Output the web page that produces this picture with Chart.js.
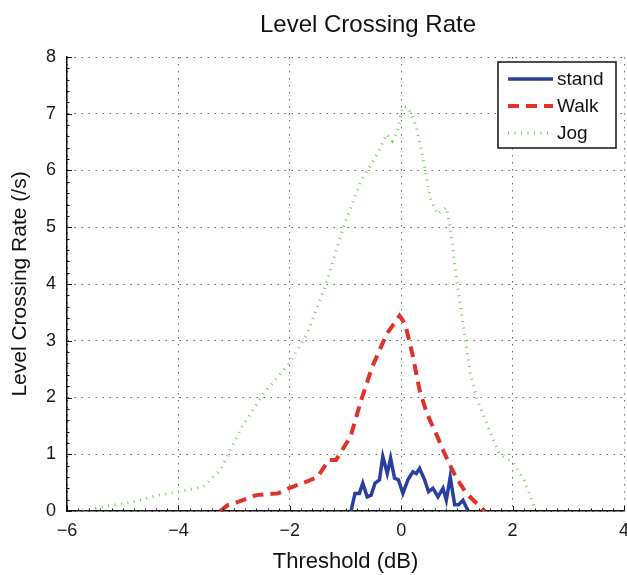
<!DOCTYPE html>
<html>
<head>
<meta charset="utf-8">
<script src="https://cdn.jsdelivr.net/npm/chart.js@4/dist/chart.umd.min.js"></script>
<style>
  html, body { margin: 0; padding: 0; background: #fff; }
</style>
</head>
<body>
<canvas id="lcr" width="627" height="575"></canvas>
<script>
// valores (limiar em dB, taxa em cruzamentos/s)
const chartTitle = 'Level Crossing Rate';
const seriesNames = ['stand', 'Walk', 'Jog'];

const standX = [-0.90, -0.83, -0.75, -0.69, -0.61, -0.54, -0.47, -0.39, -0.33, -0.25, -0.19, -0.12, -0.05, 0.03, 0.12, 0.21, 0.27, 0.33, 0.42, 0.49, 0.57, 0.66, 0.75, 0.81, 0.88, 0.96, 1.03, 1.11, 1.20];
const standY = [0, 0.31, 0.31, 0.49, 0.25, 0.28, 0.49, 0.55, 0.96, 0.66, 0.93, 0.58, 0.55, 0.31, 0.55, 0.69, 0.66, 0.75, 0.55, 0.34, 0.40, 0.25, 0.40, 0.19, 0.60, 0.11, 0.11, 0.19, 0];

const walkX = [-3.25, -3.12, -2.93, -2.60, -2.21, -2.02, -1.69, -1.50, -1.30, -1.17, -0.91, -0.72, -0.52, -0.26, -0.03, 0.07, 0.20, 0.33, 0.46, 0.65, 0.78, 0.98, 1.17, 1.50];
const walkY = [0, 0.10, 0.16, 0.28, 0.31, 0.40, 0.52, 0.60, 0.90, 0.90, 1.31, 1.95, 2.54, 3.12, 3.44, 3.30, 2.77, 2.13, 1.72, 1.31, 1.01, 0.60, 0.31, 0];

const jogX = [-5.72, -5.33, -4.81, -4.36, -4.00, -3.55, -3.25, -2.86, -2.47, -2.02, -1.69, -1.37, -1.04, -0.72, -0.46, -0.26, -0.16, -0.07, 0.03, 0.13, 0.26, 0.39, 0.52, 0.65, 0.81, 0.88, 0.98, 1.11, 1.24, 1.37, 1.56, 1.76, 2.02, 2.21, 2.41];
const jogY = [0, 0.08, 0.16, 0.28, 0.34, 0.43, 0.72, 1.48, 2.07, 2.59, 3.12, 3.94, 5.00, 5.82, 6.23, 6.64, 6.52, 6.69, 7.13, 7.10, 6.81, 6.23, 5.52, 5.23, 5.35, 5.00, 4.18, 3.30, 2.42, 1.95, 1.48, 1.01, 0.84, 0.54, 0.02];

const xTicks = [-6, -4, -2, 0, 2, 4];
const yTicks = [0, 1, 2, 3, 4, 5, 6, 7, 8];

function pontos(xs, ys) {
    return xs.map((x, i) => ({ x: x, y: ys[i] }));
}

const FONTE = "'Liberation Sans', Arial, sans-serif";
Chart.defaults.font.family = FONTE;
Chart.defaults.color = '#1a1a1a';

// marcas para dentro nos eixos (estilo MATLAB), título deslocado e legenda dentro da área
const eixosELegenda = {
    id: 'eixosELegenda',
    afterDatasetsDraw(chart) {
        const { ctx, chartArea: a, scales } = chart;
        ctx.save();
        ctx.strokeStyle = '#111';
        ctx.lineWidth = 1;
        ctx.setLineDash([]);
        ctx.beginPath();
        for (let v = xTicks[0]; v <= xTicks[xTicks.length - 1] + 1e-9; v += 0.2) {
            const px = Math.round(scales.x.getPixelForValue(v)) + 0.5;
            const major = Math.abs(v - Math.round(v / 2) * 2) < 1e-6;
            ctx.moveTo(px, a.bottom);
            ctx.lineTo(px, a.bottom - (major ? 5 : 2.5));
        }
        for (let v = yTicks[0]; v <= yTicks[yTicks.length - 1] + 1e-9; v += 0.2) {
            const py = Math.round(scales.y.getPixelForValue(v)) + 0.5;
            const major = Math.abs(v - Math.round(v)) < 1e-6;
            ctx.moveTo(a.left, py);
            ctx.lineTo(a.left + (major ? 5 : 2.5), py);
        }
        ctx.stroke();
        ctx.restore();
    },
    afterDraw(chart) {
        const { ctx } = chart;
        ctx.save();
        // título
        ctx.fillStyle = '#111';
        ctx.font = '24px ' + FONTE;
        ctx.textAlign = 'center';
        ctx.textBaseline = 'alphabetic';
        ctx.fillText(chartTitle, 368, 32);

        // legenda
        const bx = 498, by = 62, bw = 118, bh = 86;
        ctx.fillStyle = '#fff';
        ctx.fillRect(bx, by, bw, bh);
        ctx.lineWidth = 1.5;
        ctx.strokeStyle = '#111';
        ctx.setLineDash([]);
        ctx.strokeRect(bx, by, bw, bh);
        ctx.textAlign = 'left';
        chart.data.datasets.forEach((ds, i) => {
            const yy = by + 17 + i * 27;
            ctx.beginPath();
            ctx.strokeStyle = ds.borderColor;
            ctx.lineWidth = ds.borderWidth;
            ctx.lineCap = 'butt';
            ctx.setLineDash(ds.borderDash || []);
            ctx.moveTo(508, yy);
            ctx.lineTo(553, yy);
            ctx.stroke();
            ctx.setLineDash([]);
            ctx.fillStyle = '#111';
            ctx.font = '19px ' + FONTE;
            ctx.textBaseline = 'middle';
            ctx.fillText(ds.label, 557, yy + 1);
        });
        ctx.restore();
    }
};

const ctx = document.getElementById('lcr').getContext('2d');

new Chart(ctx, {
    type: 'scatter',
    data: {
        datasets: [
            {
                label: seriesNames[0],
                data: pontos(standX, standY),
                showLine: true,
                borderColor: '#2b3f9e',
                borderWidth: 3.5,
                pointRadius: 0,
                tension: 0
            },
            {
                label: seriesNames[1],
                data: pontos(walkX, walkY),
                showLine: true,
                borderColor: '#e0322a',
                borderWidth: 4,
                borderDash: [11, 7],
                pointRadius: 0,
                tension: 0
            },
            {
                label: seriesNames[2],
                data: pontos(jogX, jogY),
                showLine: true,
                borderColor: '#72d05e',
                borderWidth: 3,
                borderDash: [1, 5.5],
                pointRadius: 0,
                tension: 0
            }
        ]
    },
    options: {
        responsive: false,
        animation: false,
        layout: { padding: { left: 0, right: 3, top: 57, bottom: 0 } },
        plugins: {
            legend: { display: false },
            tooltip: { enabled: false },
            title: { display: false }
        },
        scales: {
            x: {
                type: 'linear',
                min: xTicks[0],
                max: xTicks[xTicks.length - 1],
                afterBuildTicks: (s) => { s.ticks = xTicks.map(v => ({ value: v })); },
                afterFit: (s) => { s.height = 64; s.paddingLeft = 0; s.paddingRight = 0; },
                ticks: {
                    font: { size: 18 },
                    padding: 9,
                    maxRotation: 0,
                    callback: (v) => String(v).replace('-', '\u2212')
                },
                grid: { color: '#666', lineWidth: 1, drawTicks: false },
                border: { display: true, color: '#111', width: 1.5, dash: [1.5, 5.5] },
                title: {
                    display: true,
                    text: 'Threshold (dB)',
                    color: '#111',
                    font: { size: 22 },
                    padding: { top: 6, bottom: 0 }
                }
            },
            y: {
                type: 'linear',
                min: yTicks[0],
                max: yTicks[yTicks.length - 1],
                afterBuildTicks: (s) => { s.ticks = yTicks.map(v => ({ value: v })); },
                afterFit: (s) => { s.width = 67; s.paddingTop = 0; s.paddingBottom = 0; },
                ticks: { font: { size: 18 }, padding: 11 },
                grid: { color: '#666', lineWidth: 1, drawTicks: false },
                border: { display: true, color: '#111', width: 1.5, dash: [1.5, 5.5] },
                title: {
                    display: true,
                    text: 'Level Crossing Rate (/s)',
                    color: '#111',
                    font: { size: 21 },
                    padding: { top: 8, bottom: 9 }
                }
            }
        }
    },
    plugins: [eixosELegenda]
});
</script>
</body>
</html>
